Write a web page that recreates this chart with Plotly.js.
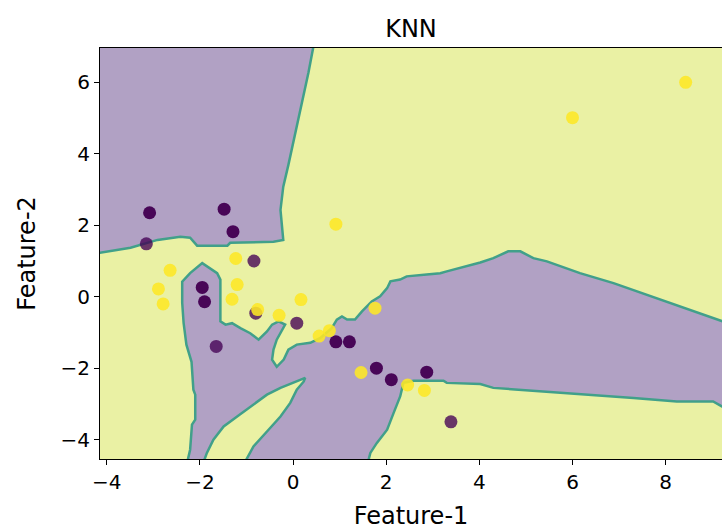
<!DOCTYPE html>
<html>
<head>
<meta charset="utf-8">
<script src="https://cdn.plot.ly/plotly-3.0.1.min.js"></script>
<style>html,body{margin:0;padding:0;background:#fff;}#chart{width:722px;height:531px;}</style>
</head>
<body>
<div id="chart"></div>
<script>
// Purple (class 0) region, upper-left, boundary
const regionAX = [0.45, 0.44, 0.33, 0.22, 0.11, 0.0, -0.10, -0.21, -0.27, -0.21, -0.42, -1.35, -1.41, -2.06, -2.21, -2.42, -2.91, -3.49, -3.77, -4.10, -4.3, -4.3];
const regionAY = [7.2, 7.02, 6.27, 5.59, 4.95, 4.31, 3.69, 3.08, 2.43, 1.59, 1.54, 1.51, 1.43, 1.43, 1.65, 1.68, 1.59, 1.37, 1.31, 1.23, 1.2, 7.2];

// Purple (class 0) region, central/lower
const regionBX = [-2.27, -2.21, -2.17, -2.10, -2.10, -2.14, -2.18, -2.29, -2.35, -2.38, -2.38, -2.21, -1.95, -1.63, -1.56, -1.56, -1.45, -1.31, -1.13, -0.92, -0.74, -0.56, -0.45, -0.31, -0.17, -0.35, -0.42, -0.45, -0.35, -0.27, -0.20, -0.10, 0.08, 0.37, 0.58, 0.83, 0.94, 1.05, 1.16, 1.33, 1.48, 1.69, 1.87, 2.02, 2.09, 2.30, 2.44, 2.87, 3.16, 3.30, 3.73, 4.02, 4.30, 4.62, 4.88, 5.16, 5.45, 6.16, 6.88, 7.59, 8.31, 9.02, 9.49, 9.49, 9.21, 9.02, 8.24, 7.31, 6.31, 5.30, 4.30, 4.02, 3.30, 3.23, 2.59, 2.37, 2.30, 2.16, 2.02, 1.80, 1.66, 1.61];
const regionBY = [-4.62, -4.28, -3.58, -3.44, -2.74, -2.60, -1.82, -1.34, -0.73, -0.17, 0.42, 0.66, 0.94, 0.66, 0.48, -0.69, -0.78, -0.74, -0.88, -1.02, -1.20, -0.97, -0.78, -0.69, -0.78, -1.20, -1.48, -1.76, -1.96, -1.85, -1.76, -1.48, -1.34, -1.29, -1.16, -0.88, -0.64, -0.55, -0.64, -0.64, -0.41, -0.13, 0.01, 0.24, 0.43, 0.48, 0.57, 0.62, 0.66, 0.71, 0.85, 0.96, 1.08, 1.27, 1.27, 1.08, 0.99, 0.66, 0.38, 0.06, -0.27, -0.60, -0.81, -3.10, -3.07, -2.93, -2.93, -2.83, -2.74, -2.65, -2.55, -2.44, -2.41, -2.35, -2.35, -2.41, -2.79, -3.25, -3.72, -4.09, -4.37, -4.62];

// Yellow (class 1) wedge inside the central purple region
const wedgeX = [-1.92, -1.85, -1.71, -1.49, -1.20, -0.85, -0.56, -0.27, 0.08, 0.26, 0.23, 0.08, -0.06, -0.27, -0.56, -0.85, -1.03];
const wedgeY = [-4.62, -4.37, -4.00, -3.63, -3.35, -3.02, -2.74, -2.55, -2.37, -2.27, -2.37, -2.60, -2.97, -3.35, -3.77, -4.19, -4.62];

// Scatter points, class 0 (purple)
const class0X = [-3.08, -1.48, -1.29, -1.95, -1.90, 0.92, 1.21, 1.79, 2.11, 2.87];
const class0Y = [2.35, 2.45, 1.82, 0.26, -0.14, -1.26, -1.26, -2.00, -2.32, -2.11];
const class0bX = [-3.15, -0.84, -0.80, 0.08, -1.65, 3.39];
const class0bY = [1.48, 1.00, -0.46, -0.74, -1.39, -3.50];
// Scatter points, class 1 (yellow)
const class1X = [-1.23, -2.64, -2.89, -2.79, -1.20, -1.31, -0.76, -0.30, 0.17, 0.56, 0.78, 0.92, 1.76, 1.46, 2.46, 2.82, 6.00, 8.43];
const class1Y = [1.07, 0.74, 0.22, -0.20, 0.34, -0.07, -0.36, -0.52, -0.08, -1.10, -0.95, 2.03, -0.32, -2.12, -2.47, -2.62, 5.01, 6.00];

const xTicks = [-4, -2, 0, 2, 4, 6, 8];
const yTicks = [-4, -2, 0, 2, 4, 6];
const tickLabel = v => (v < 0 ? '\u2212' + Math.abs(v) : String(v));

const purpleFill = '#b1a1c4';
const yellowFill = '#eaf1a4';
const edge = '#41a08a';

const traces = [
  {x: regionAX, y: regionAY, type: 'scatter', mode: 'lines', fill: 'toself', fillcolor: purpleFill,
   line: {color: edge, width: 2.5}, hoverinfo: 'skip', showlegend: false},
  {x: regionBX, y: regionBY, type: 'scatter', mode: 'lines', fill: 'toself', fillcolor: purpleFill,
   line: {color: edge, width: 2.5}, hoverinfo: 'skip', showlegend: false},
  {x: wedgeX, y: wedgeY, type: 'scatter', mode: 'lines', fill: 'toself', fillcolor: yellowFill,
   line: {color: edge, width: 2.5}, hoverinfo: 'skip', showlegend: false},
  {x: class0bX, y: class0bY, type: 'scatter', mode: 'markers', showlegend: false,
   marker: {color: '#440154', size: 13, opacity: 0.78, line: {width: 0}}},
  {x: class0X, y: class0Y, type: 'scatter', mode: 'markers', showlegend: false,
   marker: {color: '#440154', size: 13, opacity: 0.97, line: {width: 0}}},
  {x: class1X, y: class1Y, type: 'scatter', mode: 'markers', showlegend: false,
   marker: {color: '#fde725', size: 13, opacity: 0.88, line: {width: 0}}}
];

const font = 'DejaVu Sans, sans-serif';
const layout = {
  width: 722, height: 531,
  margin: {l: 100, r: 0, t: 48, b: 72},
  paper_bgcolor: '#ffffff',
  plot_bgcolor: yellowFill,
  font: {family: font, color: '#000000'},
  title: {text: 'KNN', font: {family: font, size: 24, color: '#000'}, x: 0.5, xref: 'paper', xanchor: 'center',
          y: 0.947, yref: 'container', yanchor: 'middle'},
  xaxis: {
    range: [-4.145, 9.21], tickvals: xTicks, ticktext: xTicks.map(tickLabel),
    showgrid: false, zeroline: false, ticks: 'outside', ticklen: 5, tickwidth: 1, tickcolor: '#000',
    showline: true, linecolor: '#000', linewidth: 1, mirror: true,
    tickfont: {family: font, size: 20, color: '#000'},
    title: {text: 'Feature-1', font: {family: font, size: 24, color: '#000'}, standoff: 14}
  },
  yaxis: {
    range: [-4.54, 6.96], tickvals: yTicks, ticktext: yTicks.map(tickLabel),
    showgrid: false, zeroline: false, ticks: 'outside', ticklen: 5, tickwidth: 1, tickcolor: '#000',
    showline: true, linecolor: '#000', linewidth: 1, mirror: true,
    tickfont: {family: font, size: 20, color: '#000'},
    title: {text: 'Feature-2', font: {family: font, size: 24, color: '#000'}, standoff: 18}
  }
};

Plotly.newPlot('chart', traces, layout, {displayModeBar: false, staticPlot: true});
</script>
</body>
</html>
